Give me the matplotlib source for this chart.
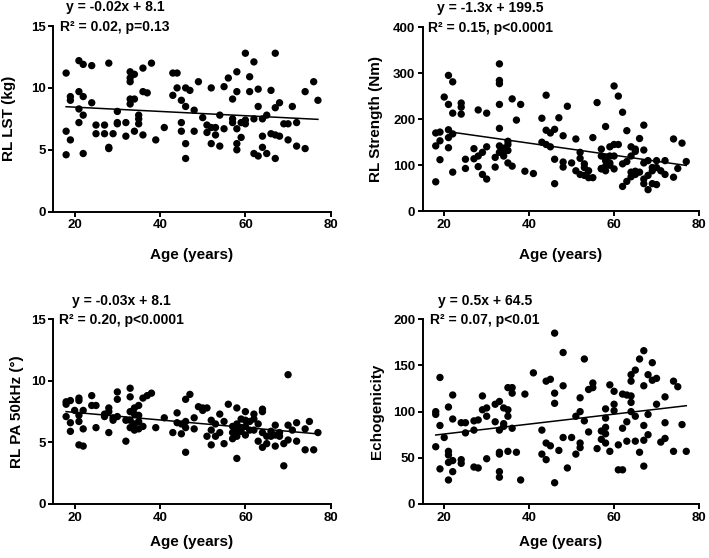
import matplotlib
matplotlib.use('Agg')
import matplotlib.pyplot as plt

plt.rcParams['font.family'] = ['Liberation Sans', 'DejaVu Sans']
plt.rcParams['font.weight'] = 'bold'

# 面板1: RL LST (kg)
lst_age = [18, 18, 18, 19, 19, 19, 21, 21, 21, 21, 22, 22, 22, 22, 24, 24, 25, 25,
           27, 27, 28, 28, 28, 29, 30, 30, 30, 32, 32, 33, 33, 33, 33, 33, 34, 34, 34,
           35, 35, 35, 36, 36, 36, 37, 38, 39, 41, 43, 43, 44, 44, 45, 45, 45,
           46, 46, 46, 46, 47, 48, 48, 49, 50, 51, 51, 52, 52, 52, 53, 53, 54, 54,
           55, 55, 56, 57, 57, 57, 58, 58, 58, 58, 58, 59, 59, 60, 60, 60, 61, 61,
           62, 62, 62, 63, 63, 63, 64, 64, 64, 65, 65, 66, 66, 67, 67, 67, 67,
           68, 68, 69, 70, 70, 71, 72, 72, 74, 74, 76, 77]
lst_val = [11.2, 6.5, 4.6, 9.3, 9.0, 5.8, 12.2, 9.7, 8.3, 7.2, 11.9, 9.3, 7.8, 4.7, 11.8, 8.8, 7.0, 6.3,
           7.0, 6.3, 12.0, 5.2, 5.1, 6.3, 8.1, 7.2, 7.1, 7.2, 6.1, 11.3, 10.8, 10.5, 9.1, 8.7, 11.1, 9.1, 6.5,
           7.8, 7.5, 7.1, 11.6, 9.7, 6.2, 9.6, 12.0, 5.8, 6.8, 11.2, 9.4, 11.2, 10.0, 9.0, 7.2, 6.5,
           10.0, 8.5, 5.5, 4.3, 9.8, 8.2, 6.5, 10.5, 7.6, 7.0, 6.4, 10.0, 6.8, 5.5, 6.8, 6.2, 7.8, 5.3,
           10.1, 6.7, 10.8, 9.1, 7.5, 7.2, 11.3, 9.7, 6.7, 5.5, 5.0, 7.2, 6.0, 12.8, 7.4, 7.1, 10.9, 9.7,
           12.1, 7.5, 4.7, 9.9, 8.5, 4.5, 7.5, 6.1, 5.2, 7.8, 4.7, 9.8, 6.3, 12.8, 8.4, 6.2, 4.3,
           8.8, 6.1, 7.1, 7.1, 5.8, 8.5, 7.2, 5.3, 9.7, 5.1, 10.5, 9.0]
lst_line_x = [18, 77]
lst_line_y = [8.48, 7.46]

# 面板2: RL Strength (Nm)
str_age = [18, 18, 18, 19, 19, 19, 20, 21, 21, 21, 21, 21, 22, 22, 22, 22, 24, 24, 24,
           25, 25, 27, 27, 28, 28, 28, 29, 29, 30, 30, 30, 32, 32,
           33, 33, 33, 33, 33, 33, 33, 34, 34, 34, 35, 35, 35, 35, 36, 36, 37, 38, 39, 41,
           43, 43, 44, 44, 44, 45, 45, 46, 46, 46, 47, 48, 48, 48, 49, 50, 51, 51,
           52, 52, 52, 53, 53, 53, 54, 54, 55, 55, 56, 57, 57, 57, 57,
           58, 58, 58, 58, 58, 59, 59, 59, 59, 60, 60, 60, 60, 61, 61, 62, 62, 62,
           63, 63, 63, 64, 64, 64, 64, 65, 65, 65, 65, 66, 66, 67, 67, 67, 67, 67,
           68, 68, 68, 69, 69, 69, 70, 70, 70, 71, 72, 72, 74, 74, 75, 76, 77]
str_val = [170, 142, 64, 172, 153, 112, 248, 295, 232, 177, 160, 138, 281, 213, 168, 85, 235, 226, 211,
           113, 93, 136, 114, 220, 120, 97, 128, 80, 213, 140, 70, 117, 96,
           320, 284, 277, 232, 180, 142, 128, 137, 130, 120, 152, 145, 132, 105, 244, 98, 198, 232, 87, 82,
           202, 150, 252, 176, 145, 170, 140, 178, 113, 60, 203, 164, 107, 96, 228, 105, 157, 88,
           128, 115, 80, 103, 95, 78, 88, 73, 160, 73, 236, 135, 120, 93, 92,
           184, 117, 110, 98, 88, 140, 120, 105, 100, 272, 145, 120, 92, 250, 145, 215, 103, 54,
           175, 108, 65, 140, 120, 85, 75, 135, 130, 87, 80, 158, 85, 187, 133, 105, 70, 60,
           110, 78, 47, 95, 88, 60, 110, 95, 58, 88, 110, 80, 157, 74, 93, 148, 108]
str_line_x = [22, 77]
str_line_y = [171.5, 99.5]

# 面板3: RL PA 50kHz
pa_age = [18, 18, 18, 19, 19, 19, 20, 21, 21, 21, 21, 21, 22, 22, 22, 24, 24, 25, 25,
          27, 27, 28, 28, 28, 29, 29, 30, 30, 30, 32, 32, 33, 33, 33, 33, 33,
          34, 34, 34, 34, 35, 35, 35, 35, 36, 36, 37, 38, 39, 41, 43, 44, 44, 45, 45,
          46, 46, 46, 46, 47, 48, 48, 49, 50, 50, 51, 51, 52, 52, 52, 53, 53, 54, 54,
          55, 55, 56, 57, 57, 57, 58, 58, 58, 58, 58, 59, 59, 59, 60, 60, 60, 60,
          61, 61, 62, 62, 62, 63, 63, 64, 64, 64, 64, 65, 65, 66, 66, 67, 67, 67,
          68, 68, 69, 69, 70, 70, 70, 71, 72, 72, 74, 74, 75, 76, 77]
pa_val = [8.1, 8.3, 7.1, 8.4, 6.6, 5.9, 7.6, 8.6, 8.4, 7.2, 6.7, 4.8, 7.6, 6.1, 4.7, 8.8, 8.0, 8.0, 6.2,
          7.3, 7.1, 7.8, 7.5, 5.8, 7.0, 6.8, 9.1, 8.5, 7.1, 6.8, 5.1, 9.4, 8.7, 7.5, 6.8, 6.2,
          7.8, 7.3, 6.5, 6.0, 8.0, 7.2, 6.7, 6.1, 8.6, 6.3, 8.8, 9.0, 6.2, 7.0, 5.8, 7.4, 6.6, 6.5, 5.7,
          8.5, 6.7, 6.2, 4.2, 8.9, 7.0, 6.1, 7.9, 7.8, 7.6, 7.8, 5.5, 6.8, 6.0, 4.8, 6.5, 5.5, 7.3, 5.8,
          6.7, 4.9, 8.1, 6.3, 5.8, 5.3, 7.8, 6.5, 6.0, 5.5, 3.7, 6.9, 6.2, 5.9, 7.5, 6.8, 6.3, 5.6,
          6.7, 6.0, 7.3, 6.9, 6.0, 6.5, 5.1, 7.7, 7.5, 5.8, 4.6, 5.5, 4.9, 5.9, 5.5, 6.4, 5.6, 4.7,
          5.8, 5.5, 4.9, 3.1, 10.5, 6.4, 5.2, 6.0, 6.6, 5.1, 6.1, 4.4, 6.7, 4.4, 5.8]
pa_line_x = [18, 77]
pa_line_y = [7.5, 5.69]

# 面板4: Echogenicity
echo_age = [18, 18, 18, 19, 19, 19, 20, 21, 21, 21, 21, 21, 22, 22, 22, 22, 24, 24, 24,
            25, 25, 27, 27, 27, 28, 28, 29, 29, 30, 30, 30, 32, 32,
            33, 33, 33, 33, 33, 33, 34, 34, 34, 35, 35, 35, 35, 36, 36, 36, 37, 38, 39, 41,
            43, 43, 44, 44, 44, 45, 45, 46, 46, 46, 46, 47, 48, 48, 48, 49, 50, 51, 51,
            52, 52, 52, 52, 53, 53, 54, 54, 55, 55, 56, 57, 57, 58, 58, 58, 58, 58,
            59, 59, 60, 60, 60, 61, 61, 62, 62, 62, 63, 63, 63, 64, 64, 64, 64, 64,
            65, 65, 65, 66, 66, 67, 67, 67, 67, 67, 68, 68, 68, 69, 69, 70, 70, 71,
            72, 72, 72, 74, 74, 75, 76, 77]
echo_val = [100, 97, 62, 137, 85, 38, 72, 105, 57, 53, 45, 26, 118, 92, 47, 35, 88, 48, 44,
            88, 77, 90, 80, 40, 91, 39, 117, 102, 104, 95, 49, 108, 89,
            111, 80, 56, 54, 35, 29, 104, 87, 84, 126, 102, 95, 57, 126, 120, 82, 56, 26, 119, 142,
            80, 54, 133, 66, 48, 135, 63, 185, 120, 109, 23, 58, 164, 128, 72, 39, 72, 95, 54,
            115, 100, 66, 61, 157, 90, 124, 78, 131, 126, 60, 79, 70, 103, 93, 83, 76, 66,
            129, 57, 122, 108, 101, 64, 37, 119, 82, 37, 118, 89, 68, 140, 133, 117, 110, 100,
            145, 95, 68, 157, 56, 166, 128, 85, 69, 41, 140, 97, 75, 153, 134, 136, 108, 67,
            116, 88, 71, 133, 57, 127, 86, 57]
echo_line_x = [18, 77]
echo_line_y = [74.7, 106.4]

panels = [
    # (位置, 年龄, 数值, 回归线x, 回归线y, y上限, y刻度, y标签, 方程, R2文本, ylabel x, xlabel y)
    ([0.0752, 0.6206, 0.3913, 0.3328], lst_age, lst_val, lst_line_x, lst_line_y, 15, [0, 5, 10, 15],
     'RL LST (kg)', 'y = -0.02x + 8.1', 'R² = 0.02, p=0.13', 0.222, -0.134, -0.195),
    ([0.5966, 0.6213, 0.3893, 0.3303], str_age, str_val, str_line_x, str_line_y, 400, [0, 100, 200, 300, 400],
     'RL Strength (Nm)', 'y = -1.3x + 199.5', 'R² = 0.15, p<0.0001', 0.243, -0.145, -0.2),
    ([0.0752, 0.0968, 0.3913, 0.3310], pa_age, pa_val, pa_line_x, pa_line_y, 15, [0, 5, 10, 15],
     'RL PA 50kHz (°)', 'y = -0.03x + 8.1', 'R² = 0.20, p<0.0001', 0.244, -0.106, -0.17),
    ([0.5966, 0.0968, 0.3893, 0.3310], echo_age, echo_val, echo_line_x, echo_line_y, 200, [0, 50, 100, 150, 200],
     'Echogenicity', 'y = 0.5x + 64.5', 'R² = 0.07, p<0.01', 0.225, -0.141, -0.17),
]

fig = plt.figure(figsize=(7.09, 5.58), dpi=100)

for pos, ages, vals, lx, ly, ymax, yticks, ylab, eq, r2, tx, ylx, xly in panels:
    ax = fig.add_axes(pos)
    ax.scatter(ages, vals, s=28, color='black', edgecolors='none', zorder=3, clip_on=False)
    ax.plot(lx, ly, color='black', linewidth=1.1, zorder=2)
    ax.set_xlim(15, 80)
    ax.set_ylim(0, ymax)
    ax.set_xticks([20, 40, 60, 80])
    ax.set_yticks(yticks)
    for s in ['top', 'right']:
        ax.spines[s].set_visible(False)
    for s in ['left', 'bottom']:
        ax.spines[s].set_linewidth(1.4)
    ax.tick_params(direction='out', length=3.5, width=1.4, labelsize=9.5, pad=2)
    for lab in ax.get_xticklabels() + ax.get_yticklabels():
        lab.set_fontweight('bold')
    ax.set_xlabel('Age (years)', fontsize=11, fontweight='bold')
    ax.set_ylabel(ylab, fontsize=11, fontweight='bold')
    ax.yaxis.set_label_coords(ylx, 0.5)
    ax.xaxis.set_label_coords(0.5, xly)
    ax.text(tx, 1.08, eq, transform=ax.transAxes, ha='center', va='baseline',
            fontsize=10, fontweight='bold')
    ax.text(tx, 0.973, r2, transform=ax.transAxes, ha='center', va='baseline',
            fontsize=10, fontweight='bold')

plt.savefig('out.png', dpi=100)
